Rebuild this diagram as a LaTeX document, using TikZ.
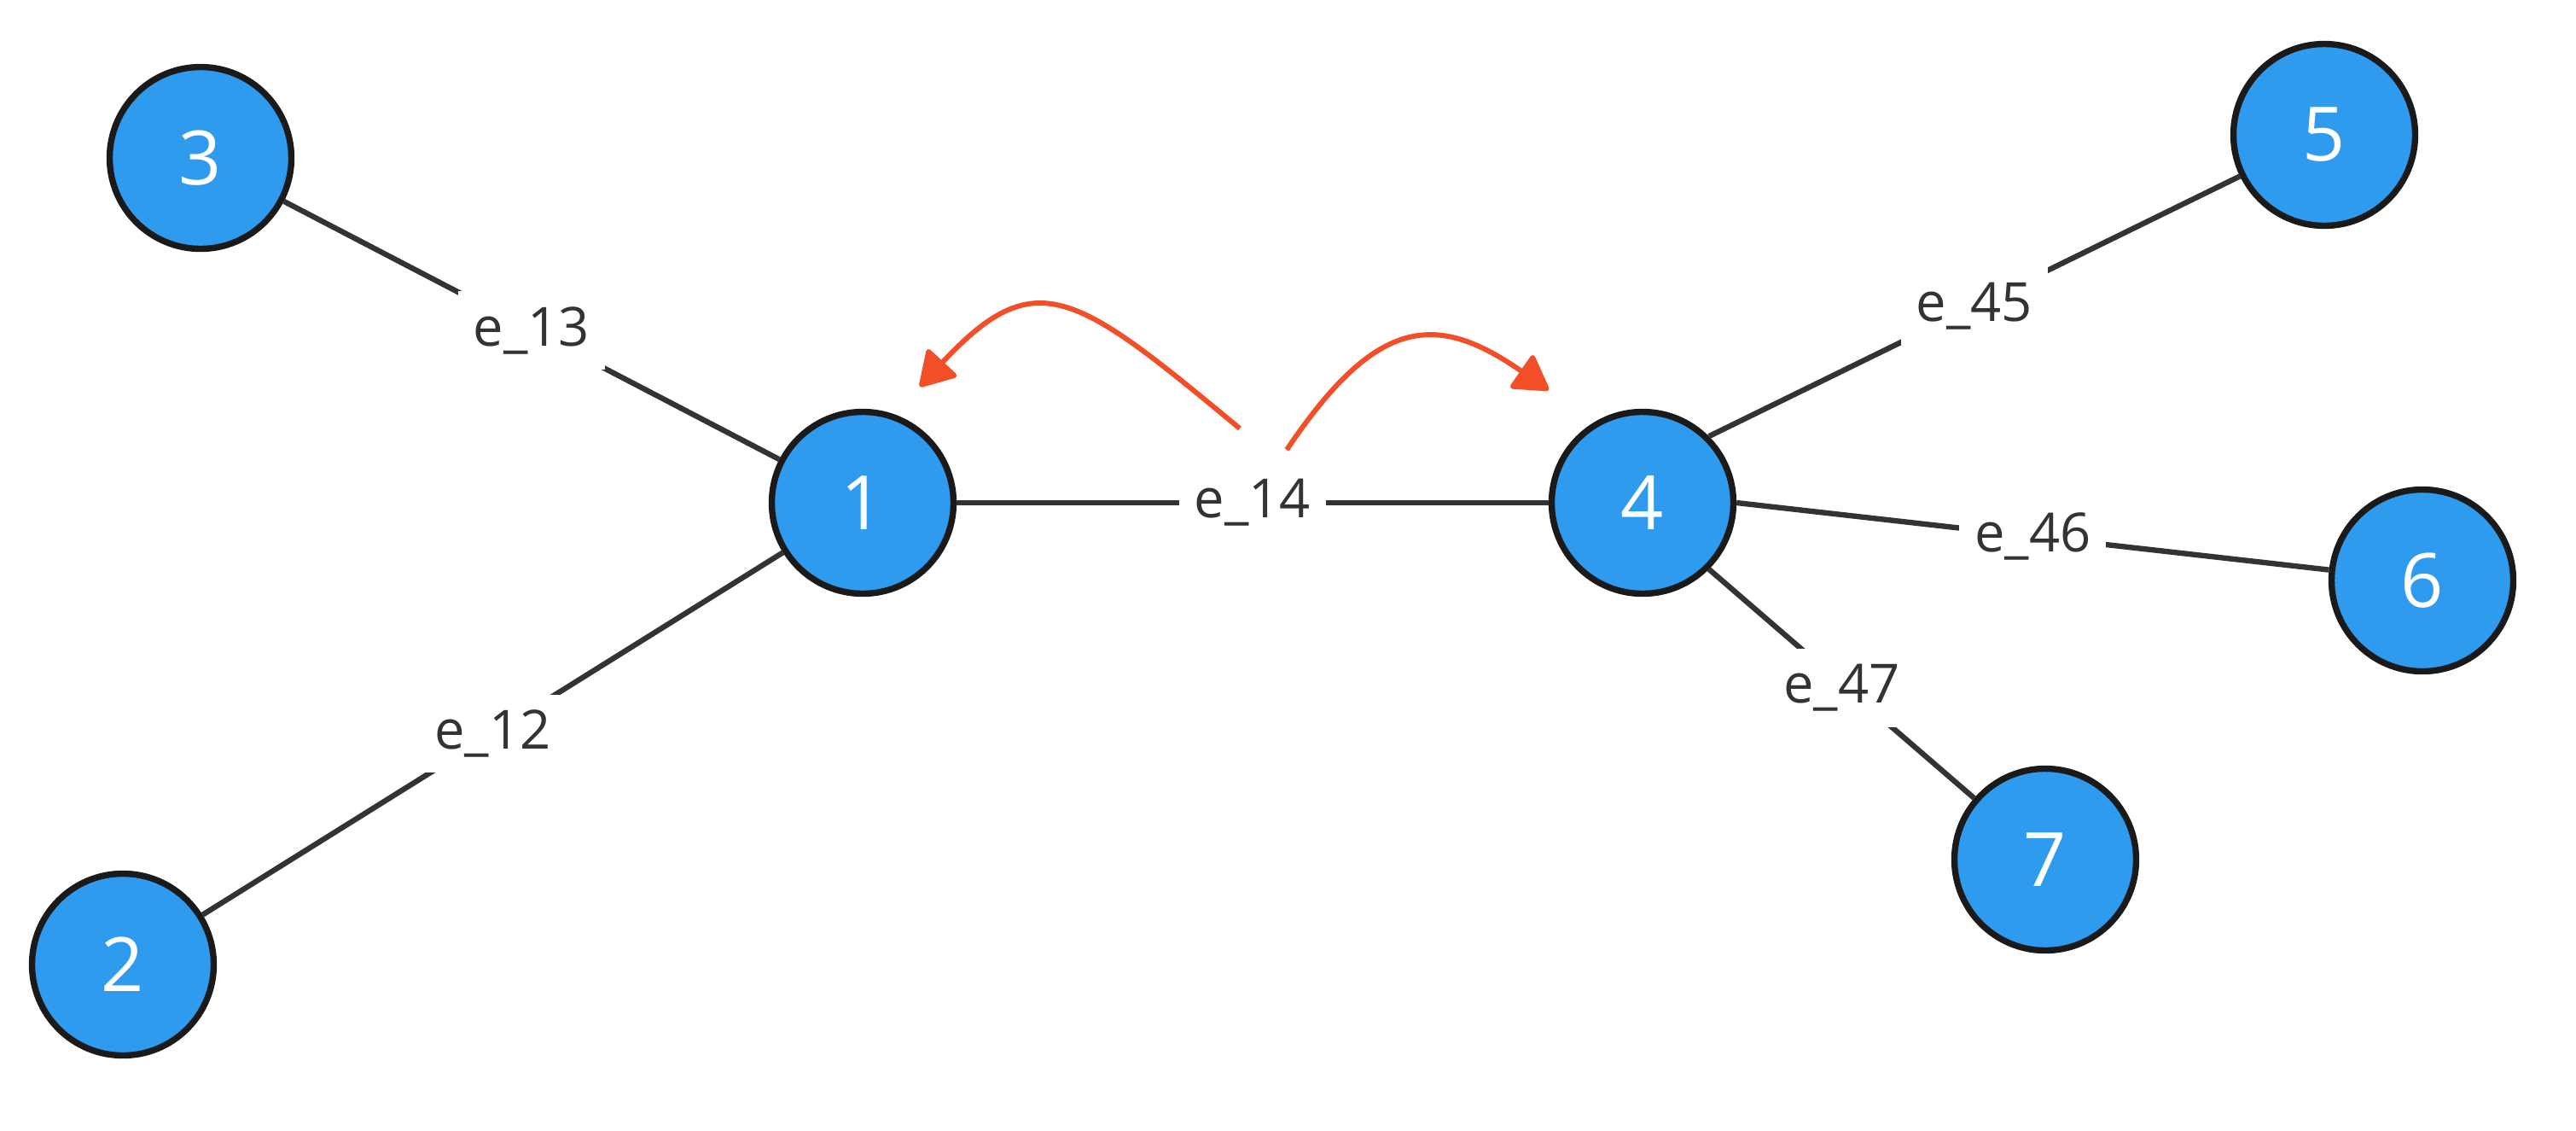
\documentclass[tikz,border=0pt]{standalone}
\usepackage{fontspec}
\setmainfont{Open Sans}
\usepackage{xcolor}
\usepackage{tikz}
\usetikzlibrary{arrows.meta}

\definecolor{vertexblue}{RGB}{47,155,239}
\definecolor{vertexrim}{RGB}{26,26,26}
\definecolor{linkgray}{RGB}{51,51,51}
\definecolor{flowred}{RGB}{242,78,40}

\begin{document}
\begin{tikzpicture}[
          vertex/.style={circle, draw=vertexrim, fill=vertexblue, line width=2.1pt, minimum size=2.13cm, inner sep=0pt, text=white, font=\fontsize{25}{30}\selectfont},
          link/.style={draw=linkgray, line width=1.8pt},
          elabel/.style={fill=white, inner sep=1.8mm, text=linkgray, font=\fontsize{18}{21}\selectfont},
          flow/.style={draw=flowred, line width=1.7pt, -{Triangle[length=4.3mm, width=5mm, round]}}
        ]
          \useasboundingbox (0,0) rectangle (30.19,-13.24);
          % vertices
          \node[vertex] (n1) at (10.11,-5.89) {1};
          \node[vertex] (n2) at (1.44,-11.30) {2};
          \node[vertex] (n3) at (2.35,-1.85) {3};
          \node[vertex] (n4) at (19.25,-5.89) {4};
          \node[vertex] (n5) at (27.24,-1.58) {5};
          \node[vertex] (n6) at (28.39,-6.80) {6};
          \node[vertex] (n7) at (23.97,-10.07) {7};
          % edges
          \draw[link] (n3) -- node[elabel] {e\_13} (n1);
          \draw[link] (n2) -- node[elabel] {e\_12} (n1);
          \draw[link] (n1) -- node[elabel] (e14) {e\_14} (n4);
          \draw[link] (n4.north east) -- node[elabel] {e\_45} (n5);
          \draw[link] (n4.east) -- node[elabel] {e\_46} (n6);
          \draw[link] (n4.south east) -- node[elabel, yshift=-0.5mm] {e\_47} (n7);
          % flows out of e_14
          \coordinate (a1) at (14.53,-5.02);
          \coordinate (a2) at (10.78,-4.53);
          \coordinate (b1) at (15.08,-5.27);
          \coordinate (b2) at (18.15,-4.57);
          \draw[flow] (a1) .. controls (12.6,-3.42) and (12.14,-3.07) .. (a2);
          \draw[flow] (b1) .. controls (16.14,-3.69) and (16.84,-3.66) .. (b2);
        \end{tikzpicture}
\end{document}
